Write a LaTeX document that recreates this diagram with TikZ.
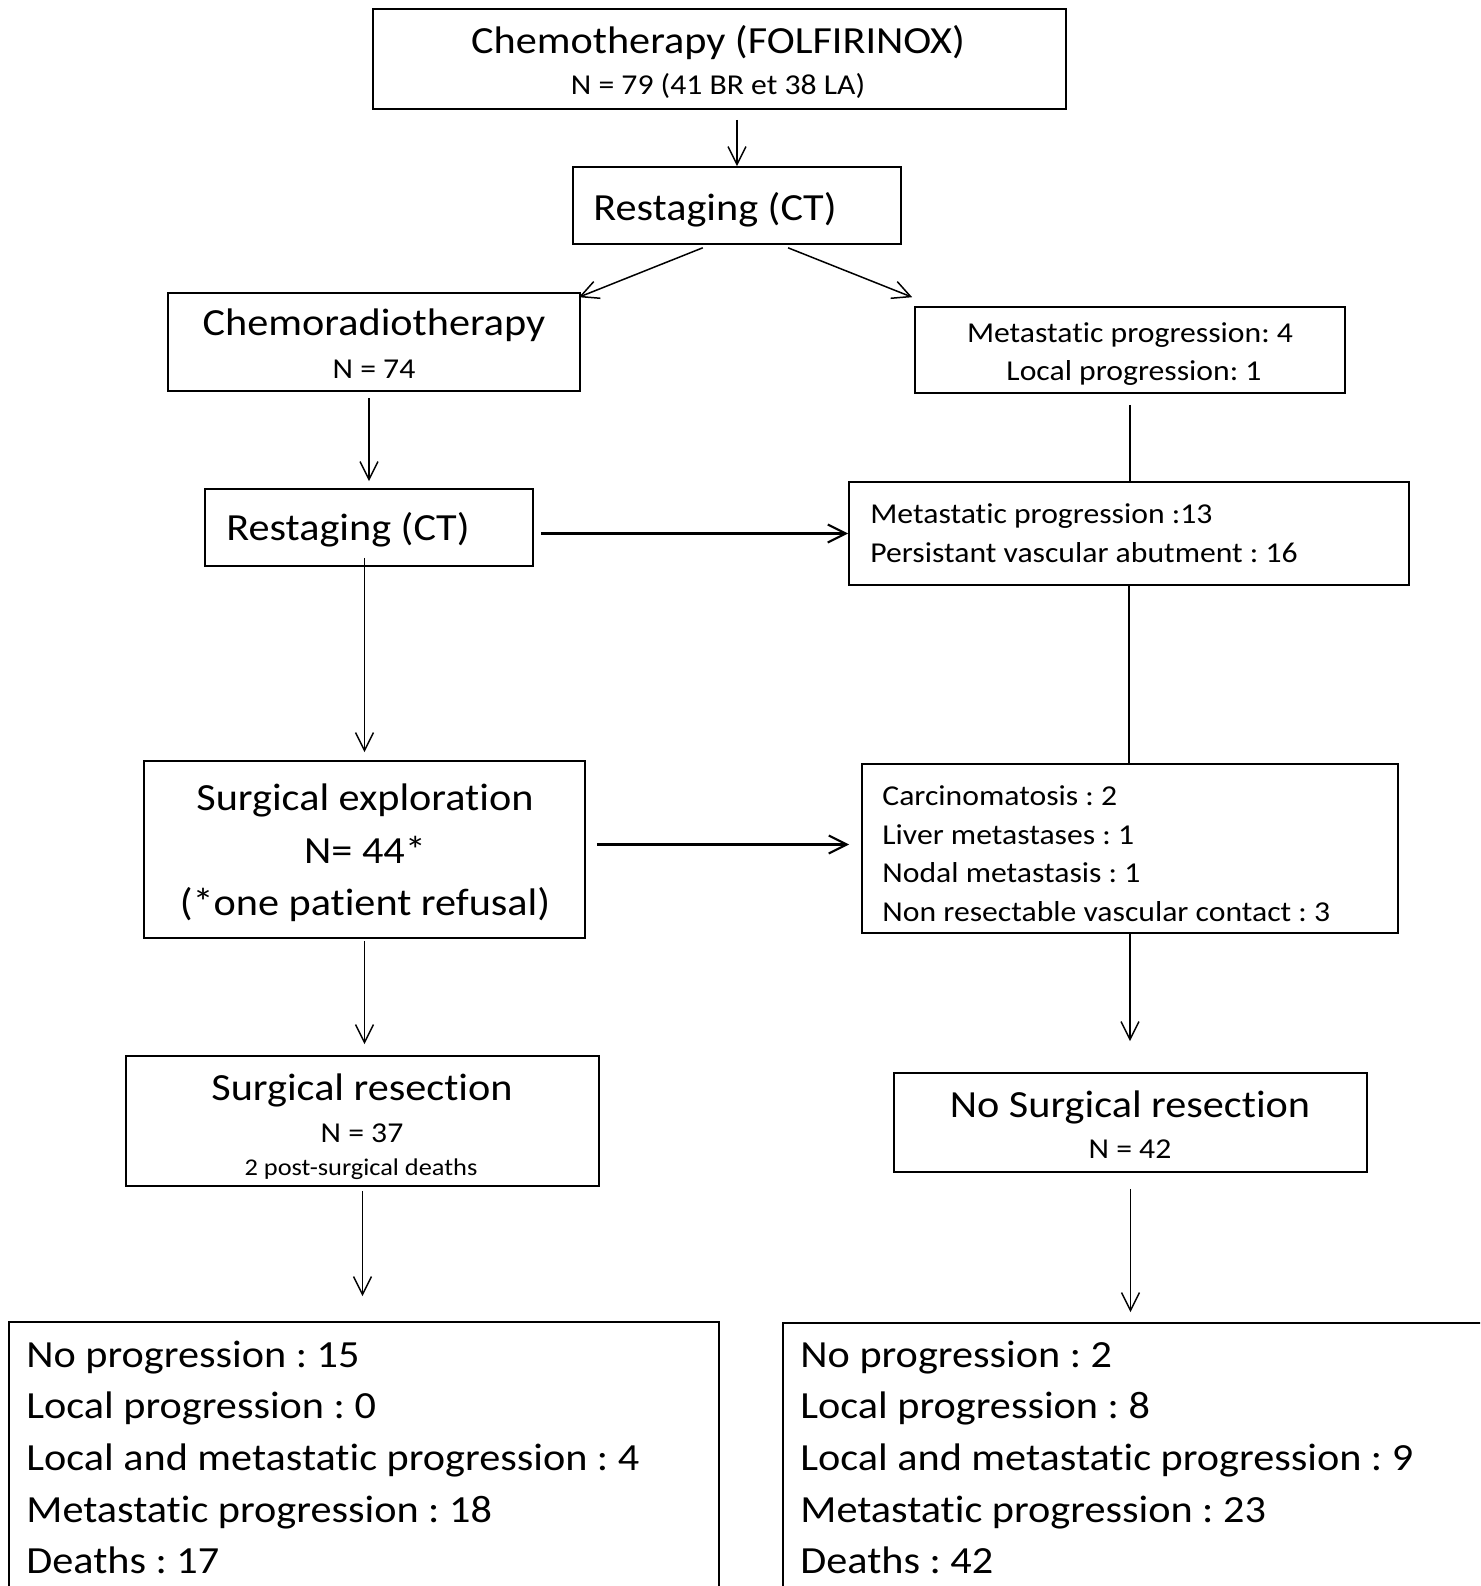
\documentclass[tikz,border=0pt]{standalone}
\usepackage{fontspec}
\setmainfont{Carlito}[FakeStretch=1.1, RawFeature={-liga;-clig;-calt;-dlig}]
\usetikzlibrary{arrows.meta,fit,calc}
\newcommand\fbig{\fontsize{19.2}{23}\selectfont}
\newcommand\fmed{\fontsize{14.4}{17}\selectfont}
\newcommand\fsml{\fontsize{12}{14}\selectfont}
\frenchspacing
\begin{document}
\begin{tikzpicture}[x=0.5pt,y=-0.5pt,
  box/.style={draw, line width=0.8pt, inner sep=0pt},
  txt/.style={inner sep=0pt, anchor=base},
  ltxt/.style={inner sep=0pt, anchor=base west},
  arr/.style={-{Straight Barb[length=9pt,width=9pt]}, line width=0.75pt},
  harr/.style={arr, line width=1.1pt},
  ln/.style={line width=0.75pt}]
\useasboundingbox (0,0) rectangle (1480,1586);
\clip (0,0) rectangle (1480,1586);
\fill[white] (0,0) rectangle (1480,1586);

% boxes
\node[box, fit={(373,9) (1066,109)}] (chemo) {};
\node[box, fit={(573,167) (901,244)}] (rest1) {};
\node[box, fit={(168,293) (580,391)}] (crt) {};
\node[box, fit={(915,307) (1345,393)}] (mp) {};
\node[box, fit={(205,489) (533,566)}] (rest2) {};
\node[box, fit={(849,482) (1409,585)}] (m13) {};
\node[box, fit={(144,761) (585,938)}] (se) {};
\node[box, fit={(862,764) (1398,933)}] (carc) {};
\node[box, fit={(126,1056) (599,1186)}] (sr) {};
\node[box, fit={(894,1073) (1367,1172)}] (nsr) {};
\node[box, fit={(9,1322) (719,1700)}] (botl) {};
\node[box, fit={(783,1323) (1600,1700)}] (botr) {};

% texts
\node[txt, font=\fbig] (t1) at (718,53) {Chemotherapy (FOLFIRINOX)};
\node[txt, font=\fmed] (t2) at (718,94) {N = 79 (41 BR et 38 LA)};
\node[ltxt, font=\fbig] (t3) at (593,220) {Restaging (CT)};
\node[txt, font=\fbig] (t4) at (374,335) {Chemoradiotherapy};
\node[txt, font=\fmed] (t5) at (374,378) {N = 74};
\node[txt, font=\fmed] (t6) at (1130,342) {Metastatic progression: 4};
\node[txt, font=\fmed] (t7) at (1134,380) {Local progression: 1};
\node[ltxt, font=\fbig] (t8) at (226,540) {Restaging (CT)};
\node[ltxt, font=\fmed] (t9) at (870,523) {Metastatic progression :13};
\node[ltxt, font=\fmed] (t10) at (870,562) {Persistant vascular abutment : 16};
\node[txt, font=\fbig] (t11) at (365,810) {Surgical exploration};
\node[txt, font=\fbig] (t12) at (365,863) {N= 44*};
\node[txt, font=\fbig] (t13) at (365,915) {(*one patient refusal)};
\node[ltxt, font=\fmed] (t14) at (882,805) {Carcinomatosis : 2};
\node[ltxt, font=\fmed] (t15) at (882,844) {Liver metastases : 1};
\node[ltxt, font=\fmed] (t16) at (882,882) {Nodal metastasis : 1};
\node[ltxt, font=\fmed] (t17) at (882,921) {Non resectable vascular contact : 3};
\node[txt, font=\fbig] (t18) at (362,1100) {Surgical resection};
\node[txt, font=\fmed] (t19) at (362,1142) {N = 37};
\node[txt, font=\fsml] (t20) at (361,1175) {2 post-surgical deaths};
\node[txt, font=\fbig] (t21) at (1130,1117) {No Surgical resection};
\node[txt, font=\fmed] (t22) at (1130,1158) {N = 42};
\node[ltxt, font=\fbig] (l1) at (26,1367) {No progression : 15};
\node[ltxt, font=\fbig] (l2) at (26,1418) {Local progression : 0};
\node[ltxt, font=\fbig] (l3) at (26,1470) {Local and metastatic progression : 4};
\node[ltxt, font=\fbig] (l4) at (26,1522) {Metastatic progression : 18};
\node[ltxt, font=\fbig] (l5) at (26,1573) {Deaths : 17};
\node[ltxt, font=\fbig] (r1) at (800,1367) {No progression : 2};
\node[ltxt, font=\fbig] (r2) at (800,1418) {Local progression : 8};
\node[ltxt, font=\fbig] (r3) at (800,1470) {Local and metastatic progression : 9};
\node[ltxt, font=\fbig] (r4) at (800,1522) {Metastatic progression : 23};
\node[ltxt, font=\fbig] (r5) at (800,1573) {Deaths : 42};

% connectors
\draw[arr, shorten <=5pt] (chemo.south -| rest1.north) -- (rest1.north);
\draw[arr] ($(rest1.south west)!0.396!(rest1.south east)+(0,3)$) -- ($(crt.north east)+(-2,5)$);
\draw[arr] ($(rest1.south west)!0.655!(rest1.south east)+(0,3)$) -- ($(mp.north west)+(-2,-9)$);
\draw[arr, shorten <=3pt, shorten >=3.5pt] (crt.south -| rest2.north) -- (rest2.north);
\draw[harr, shorten <=3.5pt] (rest2.east |- m13.west) -- (m13.west);
\draw[arr, shorten >=4pt] ($(se.north |- rest2.south)+(0,-9)$) -- (se.north);
\draw[ln, shorten <=5.5pt] (mp.south) -- (mp.south |- m13.north);
\draw[ln] (m13.south) -- (m13.south |- carc.north);
\draw[harr, shorten <=5.5pt, shorten >=6pt] ($(se.east)+(0,-5)$) -- ($(carc.west |- se.east)+(0,-5)$);
\draw[arr, shorten <=1pt, shorten >=5.5pt] (se.south) -- (se.south |- sr.north);
\draw[arr, shorten >=15.5pt] (carc.south) -- (carc.south |- nsr.north);
\draw[arr, shorten <=2pt, shorten >=12.5pt] (sr.south) -- (sr.south |- botl.north);
\draw[arr, shorten <=8pt, shorten >=5pt] (nsr.south) -- (nsr.south |- botr.north);
\end{tikzpicture}
\end{document}
